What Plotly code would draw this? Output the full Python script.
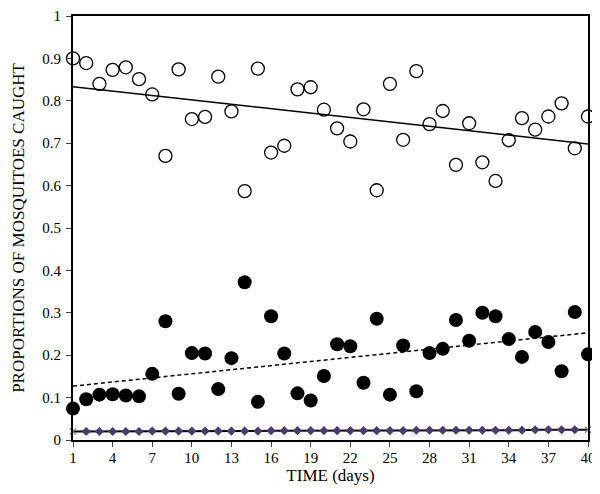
import numpy as np
import plotly.graph_objects as go

days = list(range(1, 41))

open_vals = [0.900, 0.889, 0.840, 0.873, 0.879, 0.851, 0.815, 0.670, 0.874, 0.757,
             0.762, 0.857, 0.775, 0.587, 0.876, 0.678, 0.694, 0.827, 0.832, 0.779,
             0.735, 0.704, 0.780, 0.589, 0.840, 0.708, 0.870, 0.745, 0.776, 0.649,
             0.747, 0.655, 0.611, 0.707, 0.759, 0.732, 0.763, 0.794, 0.688, 0.763]

filled_vals = [0.074, 0.096, 0.107, 0.108, 0.105, 0.103, 0.156, 0.280, 0.109, 0.205,
               0.204, 0.120, 0.193, 0.372, 0.090, 0.292, 0.204, 0.110, 0.093, 0.151,
               0.226, 0.221, 0.135, 0.286, 0.107, 0.223, 0.115, 0.205, 0.215, 0.283,
               0.234, 0.300, 0.292, 0.238, 0.196, 0.255, 0.231, 0.162, 0.302, 0.202]

diamond_vals = [0.020, 0.020, 0.020, 0.020, 0.020, 0.020, 0.021, 0.021, 0.021, 0.021,
                0.021, 0.021, 0.021, 0.021, 0.021, 0.022, 0.022, 0.022, 0.022, 0.022,
                0.022, 0.022, 0.022, 0.022, 0.022, 0.022, 0.023, 0.023, 0.023, 0.023,
                0.023, 0.023, 0.023, 0.023, 0.023, 0.024, 0.024, 0.024, 0.024, 0.024]

x_ticks = list(range(1, 41, 3))
y_ticks = [0, 0.1, 0.2, 0.3, 0.4, 0.5, 0.6, 0.7, 0.8, 0.9, 1]
y_tick_labels = ["0", "0.1", "0.2", "0.3", "0.4", "0.5", "0.6", "0.7", "0.8", "0.9", "1"]

d = np.array(days, dtype=float)
def trend(vals):
    m, b = np.polyfit(d, np.array(vals), 1)
    ends = np.array([d[0], d[-1]])
    return ends, m * ends + b

fig = go.Figure()

# diamond series
fig.add_trace(go.Scatter(x=days, y=diamond_vals, mode="lines", line=dict(color="black", width=2),
                         showlegend=False, hoverinfo="skip"))
fig.add_trace(go.Scatter(x=days[1:-1], y=diamond_vals[1:-1], mode="markers",
                         marker=dict(symbol="diamond", size=7, color="#4a3a6e"), showlegend=False))
fig.add_trace(go.Scatter(x=[days[0], days[-1]], y=[diamond_vals[0], diamond_vals[-1]], mode="markers",
                         marker=dict(symbol="x-thin", size=6, line=dict(color="#8c7cb4", width=1.5)),
                         showlegend=False))

tx, ty = trend(open_vals)
fig.add_trace(go.Scatter(x=tx, y=ty, mode="lines", line=dict(color="black", width=1.5),
                         showlegend=False, hoverinfo="skip"))
tx2, ty2 = trend(filled_vals)
fig.add_trace(go.Scatter(x=tx2, y=ty2, mode="lines", line=dict(color="black", width=1.5, dash="4px,3px"),
                         showlegend=False, hoverinfo="skip"))

fig.add_trace(go.Scatter(x=days, y=open_vals, mode="markers",
                         marker=dict(symbol="circle-open", size=13, color="black", line=dict(width=1.3)),
                         showlegend=False))
fig.add_trace(go.Scatter(x=days, y=filled_vals, mode="markers",
                         marker=dict(symbol="circle", size=14, color="black"),
                         showlegend=False))

font = "Liberation Serif"
fig.update_layout(
    width=600, height=494,
    margin=dict(l=65, r=20, t=8, b=62),
    paper_bgcolor="white", plot_bgcolor="white",
    font=dict(family=font, size=15, color="black"),
    xaxis=dict(range=[1, 40], tickvals=x_ticks, ticks="outside", ticklen=5, tickwidth=1,
               showline=True, linecolor="black", linewidth=2, mirror=True, showgrid=False,
               zeroline=False, tickfont=dict(family=font, size=15), ticklabelstandoff=-2,
               automargin=False,
               title=dict(text="TIME (days)", font=dict(family=font, size=17), standoff=4)),
    yaxis=dict(range=[0, 1], tickvals=y_ticks, ticktext=y_tick_labels, ticks="outside",
               ticklen=5, tickwidth=1, showline=True, linecolor="black", linewidth=2,
               mirror=True, showgrid=False, zeroline=False, tickfont=dict(family=font, size=15),
               ticklabelstandoff=2, automargin=False,
               title=dict(text="PROPORTIONS OF MOSQUITOES CAUGHT", font=dict(family=font, size=17),
                          standoff=13)),
)
for tr in fig.data:
    tr.cliponaxis = False

fig.write_html("out.html")
